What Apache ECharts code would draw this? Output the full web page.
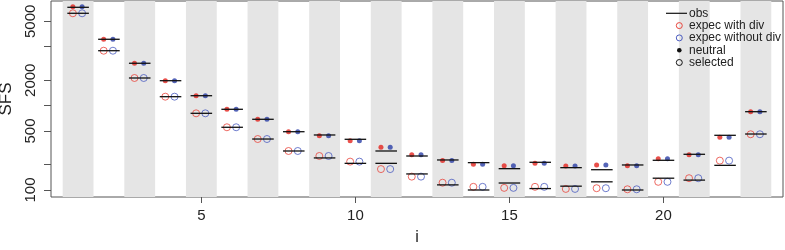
<!DOCTYPE html>
<html>
<head>
<meta charset="utf-8">
<script src="https://cdn.jsdelivr.net/npm/echarts@6/dist/echarts.min.js"></script>
<style>
html,body{margin:0;padding:0;background:#fff;}
#c{width:785px;height:250px;}
</style>
</head>
<body>
<div id="c"></div>
<script>
// ---- data ----
var categories = [1,2,3,4,5,6,7,8,9,10,11,12,13,14,15,16,17,18,19,20,21,22,23];
// observed SFS
var obsNeutral  = [14650,6120,3180,1976,1312,905,689,491,449,399,290,253,227,211,179,213,184,174,198,225,265,445,848];
var obsSelected = [12440,4480,2127,1277,811,554,402,290,240,207,207,155,115,100,121,104,111,125,100,138,131,196,461];
// expected with divergence (red)
var divNeutral  = [14890,6120,3180,1976,1312,905,689,491,440,384,321,262,223,202,194,207,193,198,194,235,262,422,848];
var divSelected = [12440,4480,2127,1277,811,554,402,290,253,217,177,144,122,109,106,109,103,105,102,125,138,223,458];
// expected without divergence (blue)
var nodivNeutral  = [14890,6120,3180,1976,1312,905,689,491,440,384,321,262,223,202,194,207,193,198,194,235,262,422,848];
var nodivSelected = [12440,4480,2127,1277,811,554,402,290,253,217,177,144,122,109,106,109,103,105,102,125,138,223,458];
// axis ticks
var xTickValues = [5,10,15,20];
var yTickValues = [100,200,500,1000,2000,5000,10000];
var yLabelValues = [100,500,2000,10000];
var yLabelTexts = ['100','500','2000','5000'];
var legendNames = ['obs','expec with div','expec without div','neutral','selected'];

var FONT = "'Liberation Sans', Arial, Helvetica, sans-serif";
var RED = '#e3241e', BLUE = '#2b3fa6';
var RED_O = '#e8453c', BLUE_O = '#4b5cc0';

function pts(vals, off){ return categories.map(function(c,k){ return [c+off, vals[k]]; }); }
function segs(vals){ return categories.map(function(c,k){ return [c, vals[k]]; }); }

var bands = categories.filter(function(c){ return c % 2 === 1; })
  .map(function(c){ return [{xAxis: c-0.5}, {xAxis: c+0.5}]; });

function segRender(params, api){
  var x = api.value(0), y = api.value(1);
  var p1 = api.coord([x-0.35, y]), p2 = api.coord([x+0.35, y]);
  return {type:'line', shape:{x1:p1[0], y1:p1[1], x2:p2[0], y2:p2[1]},
          style:{stroke:'#111', lineWidth:1.3}};
}

var chart = echarts.init(document.getElementById('c'), null, {renderer:'canvas'});
var gx = 666, gy = 13.3, dy = 12.3;
chart.setOption({
  animation:false,
  backgroundColor:'#fff',
  textStyle:{fontFamily:FONT},
  grid:{left:51, right:2, top:1, bottom:53, show:true, borderColor:'#555', borderWidth:1,
        backgroundColor:'transparent', containLabel:false, outerBoundsMode:'none'},
  xAxis:{type:'value', min:0.12, max:23.88,
    name:'i', nameLocation:'middle', nameGap:33,
    nameTextStyle:{fontSize:16, color:'#222', fontFamily:FONT},
    axisLine:{show:false}, splitLine:{show:false},
    axisTick:{show:true, length:6, lineStyle:{color:'#555'}, customValues:xTickValues},
    axisLabel:{show:true, fontSize:15, color:'#222', margin:11, fontFamily:FONT, customValues:xTickValues}
  },
  yAxis:{type:'log', logBase:10, min:82.6, max:17400,
    name:'SFS', nameLocation:'middle', nameGap:33, nameRotate:90,
    nameTextStyle:{fontSize:17, color:'#222', fontFamily:FONT},
    axisLine:{show:false}, splitLine:{show:false},
    axisTick:{show:true, length:7, lineStyle:{color:'#555'}, customValues:yTickValues},
    axisLabel:{show:true, rotate:90, fontSize:15, color:'#222', margin:13, fontFamily:FONT,
      customValues:yLabelValues,
      formatter:function(v){ var k = yLabelValues.indexOf(Math.round(v)); return k>=0 ? yLabelTexts[k] : ''; }}
  },
  series:[
    {type:'scatter', name:'bands', data:[], z:0, silent:true,
     markArea:{silent:true, itemStyle:{color:'#e5e5e5'}, data:bands}},
    {type:'scatter', name:'expec with div neutral', data:pts(divNeutral,-0.17), z:3,
     symbol:'circle', symbolSize:5, itemStyle:{color:RED}},
    {type:'scatter', name:'expec without div neutral', data:pts(nodivNeutral,0.13), z:3,
     symbol:'circle', symbolSize:5, itemStyle:{color:BLUE}},
    {type:'scatter', name:'expec with div selected', data:pts(divSelected,-0.17), z:3,
     symbol:'circle', symbolSize:7, itemStyle:{color:'rgba(0,0,0,0)', borderColor:RED_O, borderWidth:1}},
    {type:'scatter', name:'expec without div selected', data:pts(nodivSelected,0.13), z:3,
     symbol:'circle', symbolSize:7, itemStyle:{color:'rgba(0,0,0,0)', borderColor:BLUE_O, borderWidth:1}},
    {type:'custom', name:'obs neutral', data:segs(obsNeutral), renderItem:segRender, z:4},
    {type:'custom', name:'obs selected', data:segs(obsSelected), renderItem:segRender, z:4}
  ],
  graphic:[
    {type:'line', shape:{x1:gx, y1:gy, x2:gx+21, y2:gy}, style:{stroke:'#111', lineWidth:1.2}, z:10},
    {type:'circle', shape:{cx:679.3, cy:gy+dy, r:3}, style:{fill:'none', stroke:RED_O, lineWidth:1}, z:10},
    {type:'circle', shape:{cx:679.3, cy:gy+2*dy, r:3}, style:{fill:'none', stroke:BLUE_O, lineWidth:1}, z:10},
    {type:'circle', shape:{cx:679.3, cy:gy+3*dy, r:2.3}, style:{fill:'#111'}, z:10},
    {type:'circle', shape:{cx:679.3, cy:gy+4*dy, r:3}, style:{fill:'none', stroke:'#111', lineWidth:1}, z:10}
  ].concat(legendNames.map(function(n,k){
    return {type:'text', x:689, y:gy+k*dy, z:10,
      style:{text:n, fill:'#222', font:'12px '+FONT, textVerticalAlign:'middle', textAlign:'left'}};
  }))
});
</script>
</body>
</html>
